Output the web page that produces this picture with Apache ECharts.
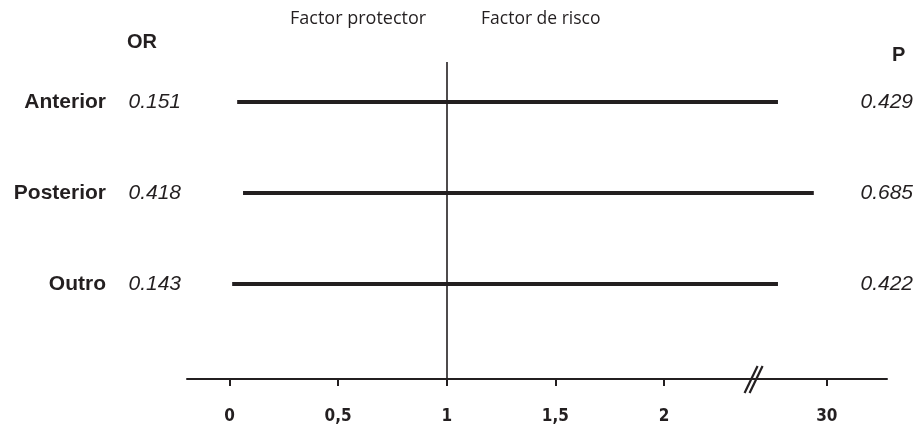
<!DOCTYPE html>
<html>
<head>
<meta charset="utf-8">
<script src="https://cdn.jsdelivr.net/npm/echarts@6/dist/echarts.min.js"></script>
<style>
  html, body { margin: 0; padding: 0; background: #ffffff; }
  #chart { width: 919px; height: 426px; }
</style>
</head>
<body>
<div id="chart"></div>
<script>
// Rows of the forest plot (top to bottom)
const categories = ['Anterior', 'Posterior', 'Outro'];
const orValues = ['0.151', '0.418', '0.143'];
const pValues = ['0.429', '0.685', '0.422'];
// Confidence interval limits for each row
const ciLower = [0.035, 0.062, 0.012];
const ciUpper = [25.5, 28.8, 25.5];
// Axis ticks and their printed labels
const tickValues = [0, 0.5, 1, 1.5, 2, 30];
const tickLabels = ['0', '0,5', '1', '1,5', '2', '30'];

const INK = '#231f20';

// Broken scale: linear up to 2, then a compressed segment around 30
const LINEAR_END = 2.25;
const TAIL_REF = 30;
const TAIL_POS = 2.75;
const TAIL_SCALE = 0.05;
const BREAK_AT = 2.415;
function toAxis(v) {
  return v <= LINEAR_END ? v : TAIL_POS + (v - TAIL_REF) * TAIL_SCALE;
}

const tickPos = tickValues.map(toAxis);
const rowOf = i => categories.length - i;

const series = categories.map((name, i) => {
  const s = {
    name: name,
    type: 'line',
    symbol: 'none',
    silent: true,
    lineStyle: { color: INK, width: 4, cap: 'butt' },
    data: [[toAxis(ciLower[i]), rowOf(i)], [toAxis(ciUpper[i]), rowOf(i)]]
  };
  if (i === 0) {
    s.markLine = {
      silent: true,
      symbol: ['none', 'none'],
      label: { show: false },
      lineStyle: { color: INK, width: 1.6, type: 'solid' },
      data: [{ xAxis: toAxis(1) }]
    };
  }
  return s;
});

const chart = echarts.init(document.getElementById('chart'));
const rowTicks = categories.map((_, i) => rowOf(i));

chart.setOption({
  animation: false,
  backgroundColor: '#ffffff',
  grid: { left: 187, right: 32, top: 62, bottom: 47 },
  xAxis: {
    type: 'value',
    min: -0.196,
    max: 3.027,
    axisLine: { onZero: false, lineStyle: { color: INK, width: 2 } },
    axisTick: { customValues: tickPos, length: 7, lineStyle: { color: INK, width: 2 } },
    splitLine: { show: false },
    axisLabel: {
      customValues: tickPos,
      margin: 29,
      color: INK,
      fontSize: 17,
      fontWeight: 'bold',
      fontFamily: "'Liberation Sans Narrow', 'DejaVu Sans Condensed', 'Roboto Condensed', sans-serif",
      formatter: function (val) {
        let best = 0;
        tickPos.forEach((p, k) => { if (Math.abs(p - val) < Math.abs(tickPos[best] - val)) best = k; });
        return tickLabels[best];
      }
    }
  },
  yAxis: [
    {
      type: 'value',
      min: -0.044,
      max: 3.44,
      axisLine: { show: false },
      axisTick: { show: false },
      splitLine: { show: false },
      axisLabel: {
        customValues: rowTicks,
        margin: 6,
        formatter: function (val) {
          const i = categories.length - Math.round(val);
          return '{n|' + categories[i] + '}{o|' + orValues[i] + '}';
        },
        rich: {
          n: { fontFamily: "'Liberation Sans', Arial, sans-serif", fontWeight: 'bold', fontSize: 21, color: INK, width: 100, align: 'right' },
          o: { fontFamily: "'Liberation Sans', Arial, sans-serif", fontStyle: 'italic', fontSize: 21, color: INK, width: 75, align: 'right' }
        }
      }
    },
    {
      type: 'value',
      position: 'right',
      min: -0.044,
      max: 3.44,
      axisLine: { show: false },
      axisTick: { show: false },
      splitLine: { show: false },
      axisLabel: {
        customValues: rowTicks,
        margin: 26,
        align: 'right',
        color: INK,
        fontFamily: "'Liberation Sans', Arial, sans-serif",
        fontStyle: 'italic',
        fontSize: 21,
        formatter: function (val) {
          return pValues[categories.length - Math.round(val)];
        }
      }
    }
  ],
  series: series
});

// Column headers and the scale-break mark on the x axis
const bx = chart.convertToPixel({ xAxisIndex: 0 }, BREAK_AT);
const by = chart.convertToPixel({ yAxisIndex: 0 }, -0.044);
const slash = (dx) => ({
  type: 'line',
  silent: true,
  shape: { x1: bx - 7 + dx, y1: by + 14, x2: bx + 6 + dx, y2: by - 13 },
  style: { stroke: INK, lineWidth: 2.2 }
});

chart.setOption({
  graphic: [
    { type: 'text', left: 127, top: 32, style: { text: 'OR', font: "bold 20px 'Liberation Sans', Arial, sans-serif", fill: INK } },
    { type: 'text', left: 892, top: 45, style: { text: 'P', font: "bold 20px 'Liberation Sans', Arial, sans-serif", fill: INK } },
    { type: 'text', left: 290, top: 10, style: { text: 'Factor protector', font: "18px 'Open Sans', sans-serif", fill: INK } },
    { type: 'text', left: 481, top: 10, style: { text: 'Factor de risco', font: "17.5px 'Open Sans', sans-serif", fill: INK } },
    slash(-2.5),
    slash(2.5)
  ]
});
</script>
</body>
</html>
